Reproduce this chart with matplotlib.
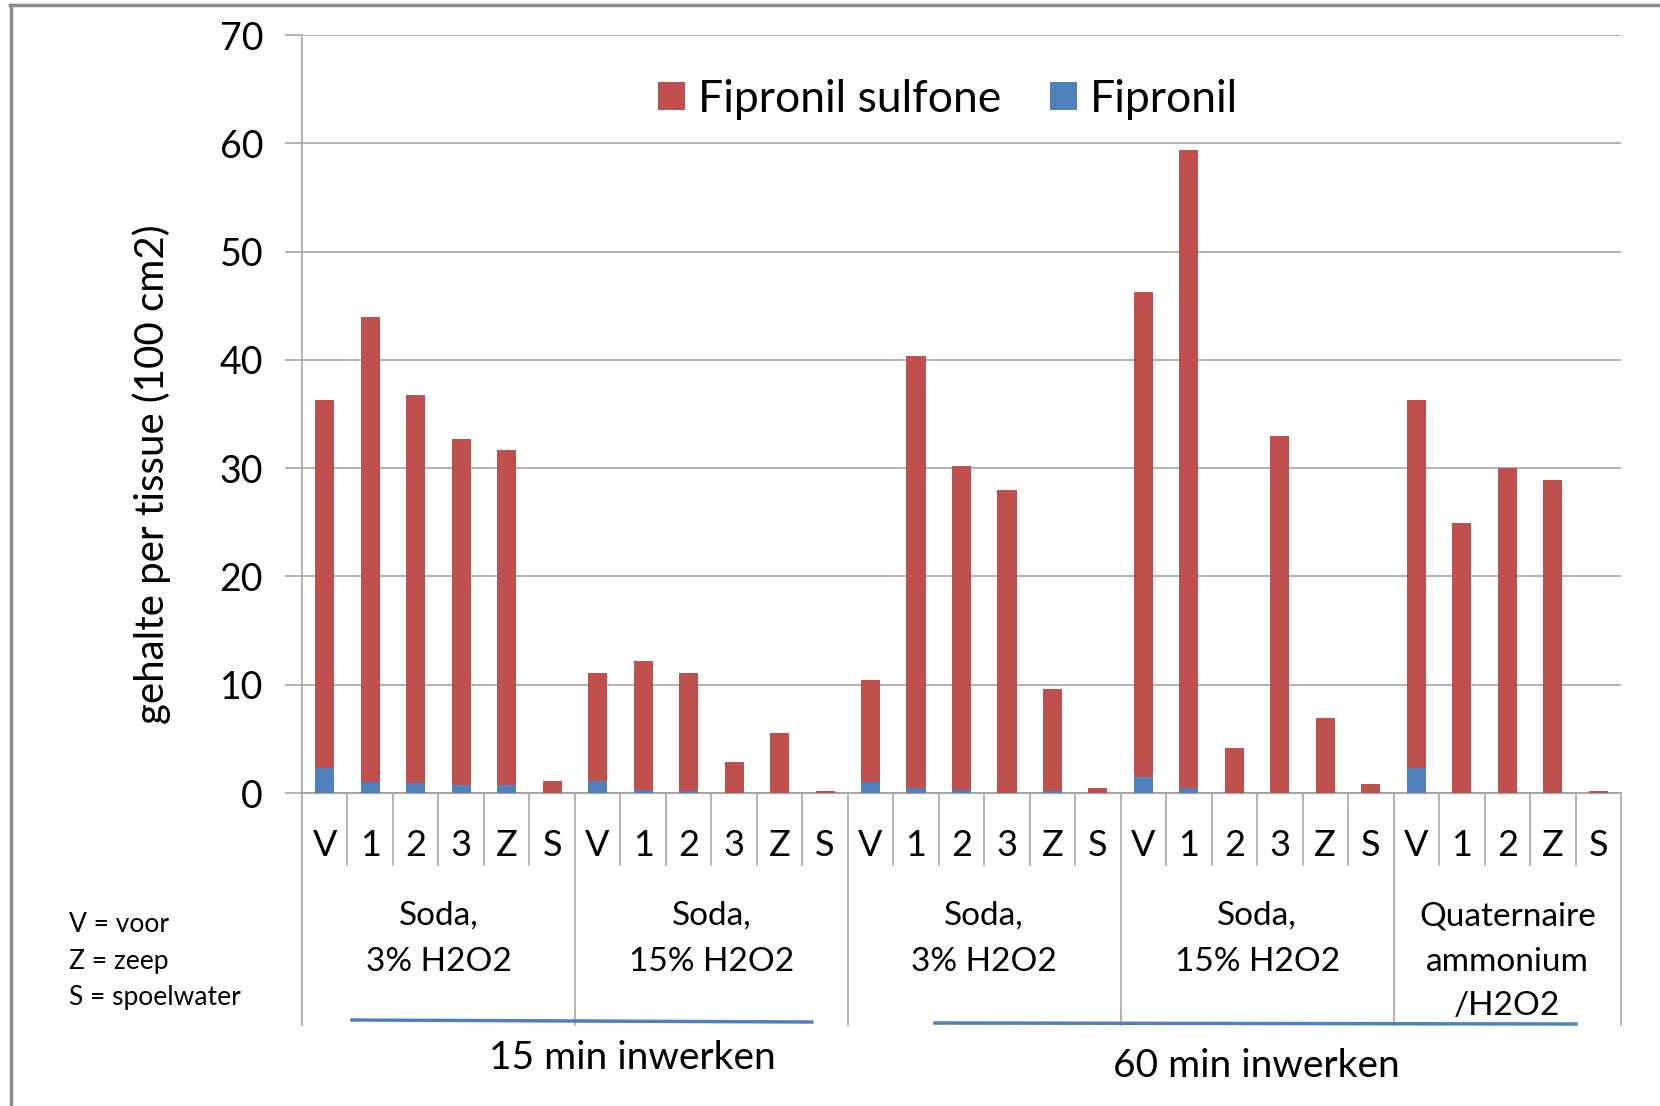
import matplotlib
matplotlib.use("Agg")
import matplotlib.pyplot as plt
import matplotlib.transforms as mtransforms
from matplotlib.lines import Line2D
import numpy as np

plt.rcParams['font.family'] = ['Lato', 'DejaVu Sans']

# ---- data ----
categories = ['V', '1', '2', '3', 'Z', 'S',
              'V', '1', '2', '3', 'Z', 'S',
              'V', '1', '2', '3', 'Z', 'S',
              'V', '1', '2', '3', 'Z', 'S',
              'V', '1', '2', 'Z', 'S']
group_labels = [['Soda,', '3% H2O2'],
                ['Soda,', '15% H2O2'],
                ['Soda,', '3% H2O2'],
                ['Soda,', '15% H2O2'],
                ['Quaternaire', 'ammonium', '/H2O2']]
group_sizes = [6, 6, 6, 6, 5]
time_labels = ['15 min inwerken', '60 min inwerken']

fipronil = [2.3, 1.0, 0.9, 0.75, 0.75, 0.0,
            1.1, 0.3, 0.2, 0.0, 0.0, 0.0,
            1.0, 0.5, 0.3, 0.0, 0.2, 0.0,
            1.5, 0.5, 0.0, 0.0, 0.0, 0.0,
            2.3, 0.0, 0.0, 0.0, 0.0]
fipronil_sulfone = [34.0, 43.0, 35.9, 31.95, 30.95, 1.1,
                    10.0, 11.9, 10.9, 2.9, 5.5, 0.2,
                    9.4, 39.9, 29.9, 28.0, 9.4, 0.5,
                    44.8, 58.9, 4.2, 33.0, 6.9, 0.8,
                    34.0, 24.9, 30.0, 28.9, 0.2]
yticks = [0, 10, 20, 30, 40, 50, 60, 70]

RED = '#C0504D'
BLUE = '#4F81BD'
GRID = '#A6A6A6'

W, H = 1660, 1106
fig = plt.figure(figsize=(W / 100, H / 100), dpi=100)

def fy(px):
    return 1 - px / H

def fx(px):
    return px / W

ax = fig.add_axes([fx(302), fy(793), fx(1621) - fx(302), fy(35) - fy(793)])

n = len(categories)
x = np.arange(n) + 0.5
ax.bar(x, fipronil, width=0.42, color=BLUE, zorder=3, label='Fipronil')
ax.bar(x, fipronil_sulfone, width=0.42, bottom=fipronil, color=RED, zorder=3,
       label='Fipronil sulfone')

ax.set_xlim(0, n)
ax.set_ylim(0, 70)
ax.set_yticks(yticks)
ax.set_yticklabels([str(t) for t in yticks], fontsize=27)
ax.tick_params(axis='y', length=12, color=GRID, width=1.2, pad=16)
ax.set_xticks([])
ax.yaxis.grid(True, color=GRID, linewidth=1.2, zorder=0)
ax.set_axisbelow(True)
for s in ['top', 'right']:
    ax.spines[s].set_visible(False)
ax.spines['left'].set_color(GRID)
ax.spines['bottom'].set_color(GRID)
ax.spines['left'].set_linewidth(1.2)
ax.spines['bottom'].set_linewidth(1.5)

ax.set_ylabel('gehalte per tissue (100 cm2)', fontsize=29)
ax.yaxis.set_label_coords(-0.099, 0.42)

# category labels and separators
trans = mtransforms.blended_transform_factory(ax.transData, fig.transFigure)
for xi, lab in zip(x, categories):
    ax.text(xi, fy(845), lab, transform=trans, ha='center', va='center', fontsize=26)

bounds = np.concatenate([[0], np.cumsum(group_sizes)])
for b in range(n + 1):
    yend = fy(1025) if b in bounds else fy(865)
    fig.add_artist(Line2D([b, b], [fy(793), yend], transform=trans, color=GRID,
                          linewidth=1.2, clip_on=False))

# group labels
line_y = [916, 962, 1006]
for gi, lines in enumerate(group_labels):
    cx = (bounds[gi] + bounds[gi + 1]) / 2
    for li, t in enumerate(lines):
        ax.text(cx, fy(line_y[li]), t, transform=trans, ha='center', va='center',
                fontsize=24)

# time labels with blue lines
fig.add_artist(Line2D([fx(352), fx(812)], [fy(1020), fy(1022)], color=BLUE, linewidth=2.5))
fig.add_artist(Line2D([fx(935), fx(1576)], [fy(1023), fy(1024)], color=BLUE, linewidth=2.5))
fig.text(fx(632), fy(1058), time_labels[0], ha='center', va='center', fontsize=28)
fig.text(fx(1256), fy(1066), time_labels[1], ha='center', va='center', fontsize=28)

# abbreviation note
notes = ['V = voor', 'Z = zeep', 'S = spoelwater']
for i, t in enumerate(notes):
    fig.text(fx(69), fy(925 + 36 * i), t, ha='left', va='center', fontsize=19)

# legend
handles, labels = ax.get_legend_handles_labels()
pos = ax.get_position()
leg = ax.legend(handles[::-1], labels[::-1], loc='center', bbox_to_anchor=(
    (fx(948) - pos.x0) / pos.width,
    (fy(99) - pos.y0) / pos.height),
    ncol=2, frameon=False, fontsize=32, handlelength=0.6, handleheight=0.6,
    handletextpad=0.3, columnspacing=1.1)

# figure border
fig.add_artist(Line2D([fx(10), 1], [fy(5), fy(5)], color='#8C8C8C', linewidth=2.5))
fig.add_artist(Line2D([fx(11), fx(11)], [fy(5), 0], color='#8C8C8C', linewidth=2.5))

fig.savefig('out.png', dpi=100)
